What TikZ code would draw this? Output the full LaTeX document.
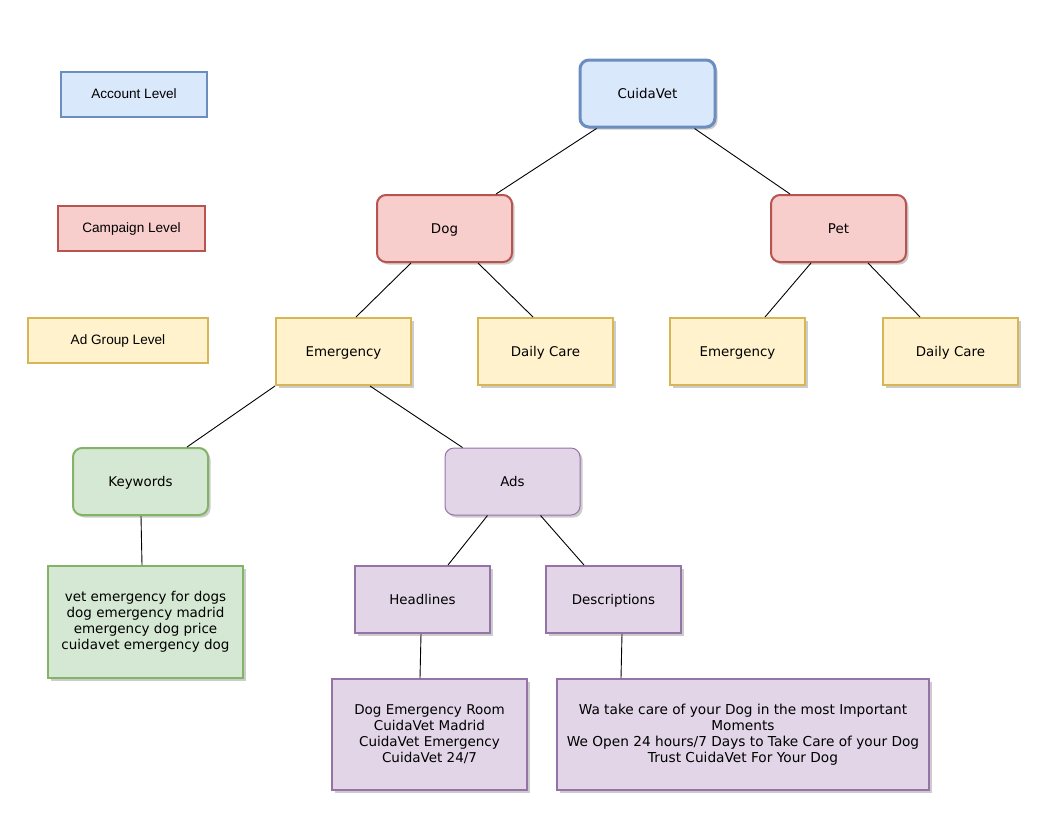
\documentclass[tikz,border=0pt]{standalone}
\usepackage{fontspec}
\setmainfont{DejaVu Sans}
\newfontfamily\legendfont{Liberation Sans}
\usetikzlibrary{shadows}
\definecolor{bluestroke}{HTML}{6C8EBF}\definecolor{bluefill}{HTML}{DAE8FC}
\definecolor{redstroke}{HTML}{B85450}\definecolor{redfill}{HTML}{F8CECC}
\definecolor{yelstroke}{HTML}{D6B656}\definecolor{yelfill}{HTML}{FFF2CC}
\definecolor{grnstroke}{HTML}{82B366}\definecolor{grnfill}{HTML}{D5E8D4}
\definecolor{purstroke}{HTML}{9673A6}\definecolor{purfill}{HTML}{E1D5E7}
\tikzset{
  legendbox/.style={draw, line width=1.2pt, minimum height=45pt, inner sep=0pt, text height=0.72em, text depth=0pt, font=\legendfont\fontsize{13.6}{16}\selectfont},
  basebox/.style={draw, line width=2pt, minimum width=135pt, minimum height=67pt, inner sep=0pt, align=center,
    font=\fontsize{13.4}{16}\selectfont,
    drop shadow={shadow xshift=2.5pt, shadow yshift=-2.5pt, opacity=0.2, fill=black}},
  treebox/.style={basebox, text height=0.95em, text depth=0pt},
  roundbox/.style={treebox, rounded corners=9pt},
  listbox/.style={basebox, font=\fontsize{13.5}{16}\selectfont},
  blue/.style={draw=bluestroke, fill=bluefill},
  red/.style={draw=redstroke, fill=redfill},
  yel/.style={draw=yelstroke, fill=yelfill},
  grn/.style={draw=grnstroke, fill=grnfill},
  pur/.style={draw=purstroke, fill=purfill},
  link/.style={draw=black, line width=0.9pt},
}
\begin{document}
\begin{tikzpicture}[x=1pt,y=-1pt]
\useasboundingbox[fill=white] (0,0) rectangle (1046,823);
% legend
\node[legendbox, blue, minimum width=146pt] (lacc) at (134,94.5) {Account Level};
\node[legendbox, red, line width=2pt, minimum width=147pt] (lcamp) at (131.5,228.5) {Campaign Level};
\node[legendbox, yel, line width=2pt, minimum width=180pt] (lad) at (118,340.5) {Ad Group Level};
% tree
\node[roundbox, blue, line width=3pt] (root) at (647.5,93.5) {CuidaVet};
\node[roundbox, red] (dog) at (444.5,228.5) {Dog};
\node[roundbox, red] (pet) at (838.5,228.5) {Pet};
\node[treebox, yel] (dem) at (343.5,351.5) {Emergency};
\node[treebox, yel] (ddc) at (545.5,351.5) {Daily Care};
\node[treebox, yel] (pem) at (737.5,351.5) {Emergency};
\node[treebox, yel] (pdc) at (950.5,351.5) {Daily Care};
\node[roundbox, grn] (kw) at (140.5,481.5) {Keywords};
\node[roundbox, pur, line width=1pt] (ads) at (512.5,481.5) {Ads};
\node[treebox, pur] (hl) at (422.5,599.5) {Headlines};
\node[treebox, pur] (ds) at (613.5,599.5) {Descriptions};
\node[listbox, grn, minimum width=195pt, minimum height=112pt] (kwl) at (145.5,622)
  {vet emergency for dogs\\dog emergency madrid\\emergency dog price\\cuidavet emergency dog};
\node[listbox, pur, minimum width=195pt, minimum height=111pt] (hll) at (429.5,734.5)
  {Dog Emergency Room\\CuidaVet Madrid\\CuidaVet Emergency\\CuidaVet 24/7};
\node[listbox, pur, minimum width=372pt, minimum height=111pt, font=\fontsize{13.7}{16}\selectfont] (dsl) at (743,734.5)
  {Wa take care of your Dog in the most Important\\Moments\\We Open 24 hours/7 Days to Take Care of your Dog\\Trust CuidaVet For Your Dog};
% connectors
\draw[link] ([xshift=18pt]root.south west) -- ([xshift=120pt]dog.north west);
\draw[link] ([xshift=116pt]root.south west) -- ([xshift=20pt]pet.north west);
\draw[link] ([xshift=35pt]dog.south west) -- ([xshift=81pt]dem.north west);
\draw[link] ([xshift=102pt]dog.south west) -- ([xshift=56pt]ddc.north west);
\draw[link] ([xshift=41pt]pet.south west) -- ([xshift=96pt]pem.north west);
\draw[link] ([xshift=98pt]pet.south west) -- ([xshift=38pt]pdc.north west);
\draw[link] (dem.south west) -- ([xshift=115pt]kw.north west);
\draw[link] ([xshift=95pt]dem.south west) -- ([xshift=18pt]ads.north west);
\draw[link] ([xshift=69pt]kw.south west) -- ([xshift=95pt]kwl.north west);
\draw[link] ([xshift=43pt]ads.south west) -- ([xshift=94pt]hl.north west);
\draw[link] ([xshift=96pt]ads.south west) -- ([xshift=39pt]ds.north west);
\draw[link] ([xshift=67pt]hl.south west) -- ([xshift=89pt]hll.north west);
\draw[link] ([xshift=77pt]ds.south west) -- ([xshift=65pt]dsl.north west);
\end{tikzpicture}
\end{document}
